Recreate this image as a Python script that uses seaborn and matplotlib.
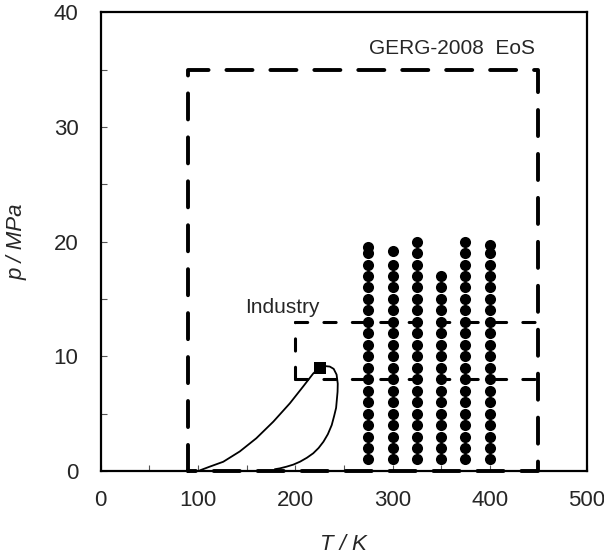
import pandas as pd
import seaborn as sns
import matplotlib.pyplot as plt
from matplotlib.ticker import MultipleLocator

sns.set_style('ticks')
plt.rcParams['font.family'] = ['Liberation Sans', 'DejaVu Sans']

# measured isotherms (T / K) and pressures (p / MPa)
t_275 = [1, 2, 3, 4, 5, 6, 7, 8, 9, 10, 11, 12, 13, 14, 15, 16, 17, 18, 19, 19.5]
t_300 = [1, 2, 3, 4, 5, 6, 7, 8, 9, 10, 11, 12, 13, 14, 15, 16, 17, 18, 19.2]
t_325 = [1, 2, 3, 4, 5, 6, 7, 8, 9, 10, 11, 12, 13, 14, 15, 16, 17, 18, 19, 20]
t_350 = [1, 2, 3, 4, 5, 6, 7, 8, 9, 10, 11, 12, 13, 14, 15, 16, 17]
t_375 = [1, 2, 3, 4, 5, 6, 7, 8, 9, 10, 11, 12, 13, 14, 15, 16, 17, 18, 19, 20]
t_400 = [1, 2, 3, 4, 5, 6, 7, 8, 9, 10, 11, 12, 13, 14, 15, 16, 17, 18, 19, 19.7]
isotherms = {275: t_275, 300: t_300, 325: t_325, 350: t_350, 375: t_375, 400: t_400}

# phase envelope
bubble_T = [102, 112, 126, 143, 160, 177.5, 194.5, 208, 218.5, 225]
bubble_p = [0.05, 0.37, 0.8, 1.7, 2.85, 4.3, 5.9, 7.35, 8.5, 9.0]
dew_T = [225, 230, 235.5, 239.5, 242.5, 243.7, 243.5, 242, 240, 237.5, 233.5,
         229, 224, 218.5, 212, 205, 198, 191, 184, 179]
dew_p = [9.0, 9.15, 9.1, 8.9, 8.4, 7.6, 6.9, 5.5, 4.8, 4.0, 3.2,
         2.55, 2.0, 1.54, 1.15, 0.81, 0.55, 0.37, 0.22, 0.15]
crit_T = [225]
crit_p = [9.0]

# validity ranges
gerg_T = [90, 90, 450, 450, 90]
gerg_p = [0, 35, 35, 0, 0]
ind_T_lo, ind_T_hi = 200, 450
ind_p_lo, ind_p_hi = 8, 13

rows = []
for T, plist in isotherms.items():
    for p in plist:
        rows.append({'T': T, 'p': p})
df = pd.DataFrame(rows)

fig = plt.figure(figsize=(6.04, 5.56), dpi=100)
ax = fig.add_axes([0.1667, 0.153, 0.8053, 0.825])

# GERG-2008 range
ax.plot(gerg_T, gerg_p, color='black', lw=2.8, dashes=(6.7, 4.6),
        dash_capstyle='round', clip_on=False, zorder=3)
# industry range
ind_style = dict(color='black', lw=2.2, dashes=(4, 5.3), dash_capstyle='round', zorder=3)
ax.plot([ind_T_lo, ind_T_hi], [ind_p_hi, ind_p_hi], **ind_style)
ax.plot([ind_T_lo, ind_T_hi], [ind_p_lo, ind_p_lo], **ind_style)
ax.plot([ind_T_lo, ind_T_lo], [ind_p_lo, ind_p_hi], **ind_style)

sns.lineplot(x=bubble_T, y=bubble_p, sort=False, color='black', lw=1.3, ax=ax)
sns.lineplot(x=dew_T, y=dew_p, sort=False, color='black', lw=1.3, ax=ax)
sns.scatterplot(x=crit_T, y=crit_p, marker='s', s=70, color='black',
                edgecolor='black', linewidth=0, ax=ax, zorder=5)
sns.scatterplot(data=df, x='T', y='p', s=64, color='black', edgecolor='black',
                linewidth=0, ax=ax, zorder=4)

ax.text(446, 36.0, 'GERG-2008  EoS', ha='right', va='bottom', fontsize=15)
ax.text(187, 13.8, 'Industry', ha='center', va='baseline', fontsize=15)

ax.set_xlim(0, 500)
ax.set_ylim(0, 40)
ax.xaxis.set_major_locator(MultipleLocator(100))
ax.xaxis.set_minor_locator(MultipleLocator(50))
ax.yaxis.set_major_locator(MultipleLocator(10))
ax.yaxis.set_minor_locator(MultipleLocator(5))
ax.tick_params(which='both', direction='in', length=4, width=0.8, color='#555555',
               labelsize=16, pad=14)
ax.tick_params(axis='y', pad=16)
for s in ax.spines.values():
    s.set_linewidth(1.6)
    s.set_color('black')

ax.set_xlabel('T / K', fontsize=16, style='italic', labelpad=16)
ax.set_ylabel('p / MPa', fontsize=16, style='italic', labelpad=19)

fig.savefig('out.png', dpi=100)
